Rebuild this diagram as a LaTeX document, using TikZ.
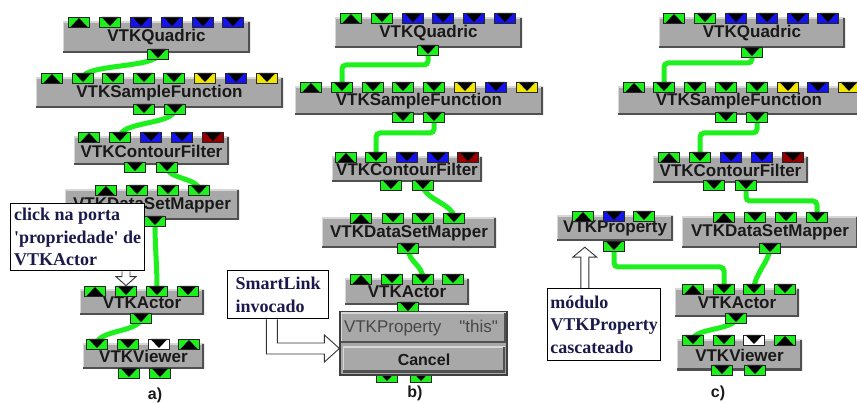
\documentclass[tikz,border=0pt]{standalone}
\usepackage{fontspec}
\newfontfamily\uifont{Liberation Sans}
\newfontfamily\annfont{Liberation Serif}
\usetikzlibrary{calc}
\pgfdeclarelayer{paper}
\pgfdeclarelayer{wires}
\pgfsetlayers{paper,wires,main}

\definecolor{pg}{RGB}{30,240,30}
\definecolor{pb}{RGB}{20,20,235}
\definecolor{py}{RGB}{240,230,0}
\definecolor{pr}{RGB}{150,0,0}
\definecolor{wiregreen}{RGB}{30,240,30}
\definecolor{boxgray}{RGB}{168,168,168}
\definecolor{boxshadow}{RGB}{80,80,80}
\definecolor{boxlight}{RGB}{215,215,215}
\definecolor{modtext}{RGB}{25,25,25}
\definecolor{notetext}{RGB}{25,25,75}

\tikzset{
  port/.style={minimum width=21pt,minimum height=10pt,inner sep=0pt,draw=black!85,line width=0.7pt},
  tri/.style={path picture={\fill[black]
      ([xshift=-8.5pt,yshift={5pt*(#1)}]path picture bounding box.center) --
      ([xshift=8.5pt,yshift={5pt*(#1)}]path picture bounding box.center) --
      ([yshift={-4pt*(#1)}]path picture bounding box.center) -- cycle;}},
  raised/.style={inner sep=0pt,path picture={
      \draw[boxlight,line width=2.4pt] (path picture bounding box.south west) -- (path picture bounding box.north west) -- (path picture bounding box.north east);
      \draw[boxshadow,line width=4pt] (path picture bounding box.south west) -- (path picture bounding box.south east) -- (path picture bounding box.north east);}},
  modbox/.style={raised,fill=boxgray,text=modtext,font=\uifont\bfseries\fontsize{17}{19}\selectfont},
  wire/.style={line width=5pt,draw=wiregreen,rounded corners=4pt},
  annbox/.style={draw=black,line width=1.3pt,fill=white,inner xsep=2.5pt,inner ysep=2pt,align=left,
      text=notetext,font=\annfont\bfseries\fontsize{18}{22.5}\selectfont,anchor=north west},
  hollow/.style={draw=black!80,fill=white,line width=0.9pt,line join=miter},
  tag/.style={font=\uifont\bfseries\fontsize{16}{18}\selectfont,text=modtext},
}

% a module box: name, centre, width, height, title
\newcommand\module[5]{\node[modbox,minimum width=#3pt,minimum height=#4pt] (#1) at (#2) {#5};}
% a row of input ports on top of a module: x/colour/direction (1 down, -1 up)
\newcommand\inports[3]{\foreach \px/\pc/\pd [count=\pn] in {#3} {\node[port,fill=\pc,tri=\pd] (#1-i\pn) at (\px,#2) {};}}
% an output port below a module
\newcommand\outport[3]{\node[port,fill=pg,tri=1] (#1) at (#2,#3) {};}

\begin{document}
\begin{tikzpicture}[x=1pt,y=-1pt]
\useasboundingbox (0,0) rectangle (857,403);
\begin{pgfonlayer}{paper}
  \fill[white] (0,0) rectangle (857,403);
\end{pgfonlayer}
\clip (0,0) rectangle (857,403);

% ---------------- a) ----------------
\module{aQ}{156.5,37.5}{187}{31}{VTKQuadric}
\inports{aQ}{22}{79/pg/-1,110/pg/1,141/pb/1,172/pb/1,203/pb/1,233/pb/1}
\outport{aQ-o1}{158}{54}
\module{aSF}{159.5,93}{247}{30}{VTKSampleFunction}
\inports{aSF}{78}{52/pg/-1,83/pg/1,113/pg/1,144/pg/1,174/pg/1,205/py/1,236/pb/1,267/py/1}
\outport{aSF-o1}{144}{109}
\outport{aSF-o2}{175}{109}
\module{aCF}{151.5,151}{155}{28}{VTKContourFilter}
\inports{aCF}{137}{89/pg/-1,120/pg/1,151/pb/1,182/pb/1,213/pr/1}
\outport{aCF-o1}{135}{167}
\outport{aCF-o2}{167}{167}
\module{aDSM}{152,205}{174}{30}{VTKDataSetMapper}
\inports{aDSM}{190}{106/pg/-1,137/pg/1,168/pg/1,199/pg/1}
\outport{aDSM-o1}{155}{221}
\module{aA}{142,302.5}{124}{25}{VTKActor}
\inports{aA}{291}{95/pg/-1,126/pg/1,157/pg/1,188/pg/1}
\outport{aA-o1}{141}{318}
\module{aV}{143.5,356.5}{121}{25}{VTKViewer}
\inports{aV}{344}{97/pg/1,128/pg/1,159/white/1,189/pg/-1}
\outport{aV-o1}{129}{373}
\outport{aV-o2}{160}{373}

\begin{pgfonlayer}{wires}
  \draw[wire] (aQ-o1.center) .. controls +(0,14) and +(0,-14) .. (aSF-i2.center);
  \draw[wire] (aSF-o2.center) .. controls +(0,16) and +(0,-16) .. (aCF-i2.center);
  \draw[wire] (aCF-o2.center) .. controls +(0,12) and +(0,-12) .. (aDSM-i4.center);
  \draw[wire] (aDSM-o1.center) .. controls +(0,30) and +(0,-30) .. (aA-i3.center);
  \draw[wire] (aA-o1.center) .. controls +(0,14) and +(0,-14) .. (aV-i1.center);
\end{pgfonlayer}

\node[annbox,minimum width=134pt,minimum height=67pt] (annA) at (10,203)
  {click na porta\\\textquotesingle propriedade\textquotesingle\ de\\VTKActor};
\coordinate (hA-tip) at (aA-i2.north);
\coordinate (hA-top) at (annA.south -| hA-tip);
\draw[hollow] ($(hA-top)+(-4,0)$) -- ($(hA-tip)+(-4,-9)$) -- ($(hA-tip)+(-10,-9)$) -- (hA-tip)
  -- ($(hA-tip)+(10,-9)$) -- ($(hA-tip)+(4,-9)$) -- ($(hA-top)+(4,0)$);
\node[tag] (la) at (155,395) {a)};

% ---------------- b) ----------------
\module{bQ}{428.5,33}{187}{30}{VTKQuadric}
\inports{bQ}{18}{351/pg/-1,382/pg/1,413/pb/1,443/pb/1,474/pb/1,505/pb/1}
\outport{bQ-o1}{428}{50}
\module{bSF}{419,101}{248}{28}{VTKSampleFunction}
\inports{bSF}{87}{311/pg/-1,342/pg/1,373/pg/1,403/pg/1,434/pg/1,465/py/1,496/pb/1,527/py/1}
\outport{bSF-o1}{403}{117}
\outport{bSF-o2}{434}{117}
\module{bCF}{407,169.5}{150}{25}{VTKContourFilter}
\inports{bCF}{157}{346/pg/-1,376/pg/1,407/pb/1,438/pb/1,468/pr/1}
\outport{bCF-o1}{391}{185}
\outport{bCF-o2}{423}{185}
\module{bDSM}{409,233}{174}{30}{VTKDataSetMapper}
\inports{bDSM}{218}{361/pg/-1,393/pg/1,423/pg/1,454/pg/1}
\outport{bDSM-o1}{408}{248}
\module{bA}{407,292}{124}{26}{VTKActor}
\inports{bA}{279}{361/pg/-1,392/pg/1,423/pg/1,453/pg/1}
\outport{bA-o1}{408}{307}
\outport{bV-o1}{387}{377}
\outport{bV-o2}{421}{377}

\begin{pgfonlayer}{wires}
  \draw[wire] (bQ-o1.center) -- ++(0,15) -| (bSF-i2.center);
  \draw[wire] (bSF-o2.center) -- ++(0,16) -| (bCF-i2.center);
  \draw[wire] (bCF-o2.center) .. controls +(0,14) and +(0,-14) .. (bDSM-i4.center);
  \draw[wire] (bDSM-o1.center) .. controls +(0,14) and +(0,-14) .. (bA-i3.center);
\end{pgfonlayer}

% pop-up menu of the SmartLink
\node[fill=boxgray,draw=black!75,line width=1.2pt,minimum width=167pt,minimum height=63pt,inner sep=0pt] (menu) at (423.5,343.5) {};
\node[raised,fill=boxgray,minimum width=165pt,minimum height=30pt] (menu-item) at (423.5,328) {};
\node[anchor=west,inner sep=0pt,font=\uifont\fontsize{17}{19}\selectfont,text=black!72] (menu-text)
  at ([xshift=3pt]menu-item.west) {VTKProperty\hspace{18pt}"this"};
\node[raised,fill=boxgray,minimum width=162pt,minimum height=25pt,text=modtext,
  font=\uifont\bfseries\fontsize{16}{18}\selectfont] (cancel) at (424,359.5) {Cancel};

\node[annbox,minimum width=101pt,minimum height=48pt] (annB) at (227,270) {SmartLink\\invocado};
\coordinate (hB-tip) at ($(menu.west)+(0,5)$);
\coordinate (hB-o) at ($(hB-tip)+(-73,0)$);
\coordinate (hB-i) at ($(hB-tip)+(-62,0)$);
\draw[hollow] (annB.south -| hB-o) -- ($(hB-o)+(0,5.5)$) -- ($(hB-tip)+(-15,5.5)$) -- ($(hB-tip)+(-15,13.5)$)
  -- (hB-tip) -- ($(hB-tip)+(-15,-13.5)$) -- ($(hB-tip)+(-15,-5.5)$) -- ($(hB-i)+(0,-5.5)$) -- (annB.south -| hB-i);
\node[tag] (lb) at (415,393) {b)};

% ---------------- c) ----------------
\module{cQ}{752,33}{186}{30}{VTKQuadric}
\inports{cQ}{18}{674/pg/-1,705/pg/1,736/pb/1,767/pb/1,798/pb/1,828/pb/1}
\outport{cQ-o1}{752}{52}
\module{cSF}{739,101}{242}{28}{VTKSampleFunction}
\inports{cSF}{87}{634/pg/-1,664/pg/1,695/pg/1,726/pg/1,757/pg/1,788/py/1,818/pb/1,849/py/1}
\outport{cSF-o1}{726}{117}
\outport{cSF-o2}{757}{117}
\module{cCF}{730.5,170}{155}{26}{VTKContourFilter}
\inports{cCF}{157}{669/pg/-1,700/pg/1,731/pb/1,762/pb/1,793/pr/1}
\outport{cCF-o1}{714}{185}
\outport{cCF-o2}{746}{185}
\module{cP}{615,228.5}{116}{25}{VTKProperty}
\inports{cP}{216}{583/pg/-1,614/pb/1,644/pg/1}
\outport{cP-o1}{614}{246}
\module{cDSM}{770,232.5}{176}{31}{VTKDataSetMapper}
\inports{cDSM}{217}{724/pg/-1,755/pg/1,786/pg/1,817/pg/1}
\outport{cDSM-o1}{770}{248}
\module{cA}{737,303}{124}{28}{VTKActor}
\inports{cA}{289}{693/pg/-1,724/pg/1,754/pg/1,785/pg/1}
\outport{cA-o1}{736}{318}
\module{cV}{739.5,355}{125}{30}{VTKViewer}
\inports{cV}{340}{693/pg/1,724/pg/1,754/white/1,785/pg/-1}
\outport{cV-o1}{722}{370}
\outport{cV-o2}{755}{370}

\begin{pgfonlayer}{wires}
  \draw[wire] (cQ-o1.center) -- ++(0,11) -| (cSF-i2.center);
  \draw[wire] (cSF-o2.center) -- ++(0,16) -| (cCF-i2.center);
  \draw[wire] (cCF-o2.center) -- ++(0,16) -| (cDSM-i4.center);
  \draw[wire] (cP-o1.center) -- ++(0,21) -| (cA-i2.center);
  \draw[wire] (cDSM-o1.center) .. controls +(0,12) and +(0,-14) .. (cA-i3.center);
  \draw[wire] (cA-o1.center) .. controls +(0,12) and +(0,-12) .. (cV-i1.center);
\end{pgfonlayer}

\node[annbox,minimum width=113pt,minimum height=72pt] (annC) at (547,288) {módulo\\VTKProperty\\cascateado};
\coordinate (hC-tip) at ($(cP.south west)+(28,6)$);
\coordinate (hC-l) at ($(hC-tip)+(-4,10)$);
\coordinate (hC-r) at ($(hC-tip)+(4,10)$);
\draw[hollow] (annC.north -| hC-l) -- (hC-l) -- ($(hC-tip)+(-12,10)$) -- (hC-tip)
  -- ($(hC-tip)+(12,10)$) -- (hC-r) -- (annC.north -| hC-r);
\node[tag] (lc) at (718,393) {c)};
\end{tikzpicture}
\end{document}
